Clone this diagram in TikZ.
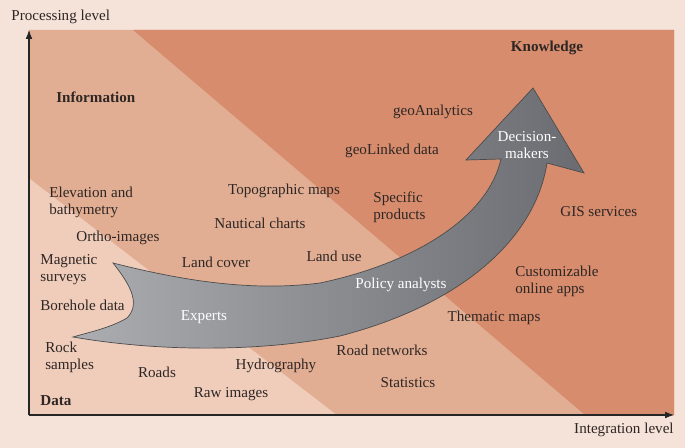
\documentclass[tikz,border=0pt]{standalone}
\usepackage{fontspec}
\setmainfont{Liberation Serif}
\usetikzlibrary{arrows.meta}
\definecolor{bgpeach}{HTML}{F5E2D8}
\definecolor{datafill}{HTML}{F0CDBB}
\definecolor{infofill}{HTML}{E2AE93}
\definecolor{knowfill}{HTML}{D68C6D}
\definecolor{txtdark}{HTML}{2E2624}
\definecolor{arrowlight}{HTML}{ABADB1}
\definecolor{arrowdark}{HTML}{6A6C71}
\tikzset{
	lbl/.style={text=txtdark, inner sep=0pt},
	lvl/.style={lbl, font=\fontsize{8.6}{9.7}\selectfont\bfseries},
	who/.style={text=white, inner sep=0pt, align=center},
	axis/.style={line width=0.6pt, black!85, -{Latex[length=5pt,width=3.8pt]}}
}

\begin{document}
\begin{tikzpicture}[x=0.02cm, y=-0.02cm, font=\fontsize{8.6}{9.7}\selectfont]
		%%%%% START %%%%%
		
		\fill[bgpeach] (0, 0) rectangle (685, 448);
		\useasboundingbox (0, 0) rectangle (685, 448);
		
		% the three levels
		\fill[datafill] (29, 30) rectangle (674, 415);
		\fill[infofill] (29, 30) -- (674, 30) -- (674, 415) -- (337, 415) -- (29, 178) -- cycle;
		\fill[knowfill] (133, 30) -- (674, 30) -- (674, 415) -- (585, 415) -- cycle;
		
		% axes
		\coordinate (origin) at (29, 415);
		\coordinate (ytip) at (29, 30);
		\coordinate (xtip) at (674, 415);
		\draw[axis] (origin) -- (ytip);
		\draw[axis] (origin) -- (xtip);
		\node[lbl, anchor=west] (ylabel) at (11, 17) {Processing level};
		\node[lbl, anchor=east] (xlabel) at (674, 430) {Integration level};
		
		% the big arrow
		\shade[left color=arrowlight, right color=arrowdark, draw=black!70, line width=0.4pt]
			(113, 263) .. controls (128, 282) and (142, 303) .. (127, 318)
			.. controls (110, 328) and (90, 332) .. (73, 337)
			.. controls (160, 352) and (260, 352) .. (340, 336)
			.. controls (460, 305) and (535, 240) .. (547, 163)
			-- (584, 173) -- (533, 88) -- (466, 160) -- (501, 159)
			.. controls (488, 217) and (415, 263) .. (320, 283)
			.. controls (250, 292) and (180, 280) .. (113, 263) -- cycle;
		
		\node[who] (experts) at (204, 317) {Experts};
		\node[who] (policy) at (401, 285) {Policy analysts};
		\node[who] (deciders) at (527, 145) {Decision-\\makers};
		
		% level names
		\node[lvl, anchor=west] (info) at (56, 97) {Information};
		\node[lvl] (know) at (547, 48) {Knowledge};
		\node[lvl, anchor=west] (data) at (40, 401) {Data};
		
		% data
		\node[lbl, anchor=west, align=left] (elev) at (49, 202) {Elevation and\\bathymetry};
		\node[lbl, anchor=west] (ortho) at (76, 238) {Ortho-images};
		\node[lbl, anchor=west, align=left] (magn) at (40, 270) {Magnetic\\surveys};
		\node[lbl, anchor=west] (bore) at (40, 305) {Borehole data};
		\node[lbl, anchor=west, align=left] (rock) at (45, 357) {Rock\\samples};
		\node[lbl] (roads) at (157, 372) {Roads};
		\node[lbl] (raw) at (231, 394) {Raw images};
		\node[lbl] (hydro) at (276, 366) {Hydrography};
		
		% information
		\node[lbl] (topo) at (284, 191) {Topographic maps};
		\node[lbl] (naut) at (260, 223) {Nautical charts};
		\node[lbl] (cover) at (216, 262) {Land cover};
		\node[lbl] (use) at (334, 256) {Land use};
		\node[lbl] (roadnet) at (382, 350) {Road networks};
		\node[lbl] (stats) at (408, 383) {Statistics};
		\node[lbl] (thematic) at (494, 318) {Thematic maps};
		
		% knowledge
		\node[lbl] (analytics) at (433, 112) {geoAnalytics};
		\node[lbl] (linked) at (392, 151) {geoLinked data};
		\node[lbl, anchor=west, align=left] (specific) at (373, 207) {Specific\\products};
		\node[lbl, anchor=west] (gis) at (560, 212) {GIS services};
		\node[lbl, anchor=west, align=left] (apps) at (515, 281) {Customizable\\online apps};
		
		%%%%% END %%%%%
\end{tikzpicture}
\end{document}
